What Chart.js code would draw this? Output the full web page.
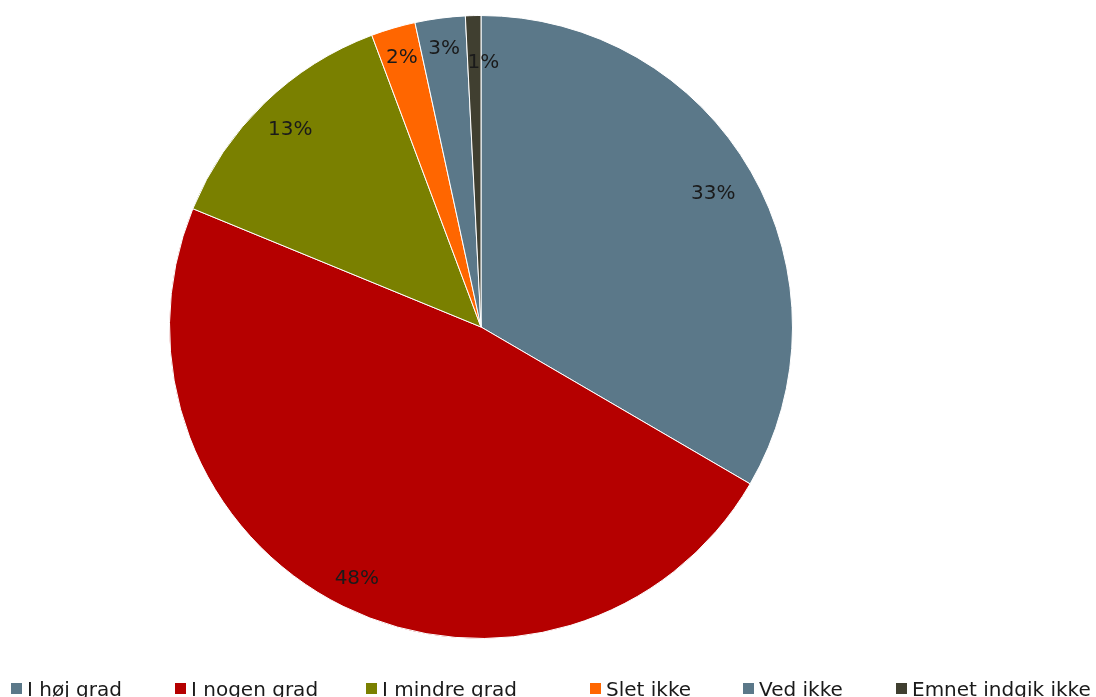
<!DOCTYPE html>
<html>
<head>
    <title>Pie</title>
    <script src="https://cdn.jsdelivr.net/npm/chart.js"></script>
    <style>
        html, body { margin: 0; padding: 0; background: #fff; }
        #wrap { width: 1096px; height: 697px; position: relative; }
    </style>
</head>
<body>
    <div id="wrap"><canvas id="pieChart"></canvas></div>
    <script>
        // Data
        const categories = ['I høj grad', 'I nogen grad', 'I mindre grad', 'Slet ikke', 'Ved ikke', 'Emnet indgik ikke'];
        const shares = [33.4, 47.8, 13.1, 2.3, 2.6, 0.8];
        const shareLabels = ['33%', '48%', '13%', '2%', '3%', '1%'];
        const colors = ['#5B7889', '#B50000', '#7A8000', '#FF6600', '#5B7889', '#403F30'];

        // label placement (fraction of radius) and legend x positions
        const labelRadius = [0.86, 0.9, 0.88, 0.9, 0.9, 0.85];
        const labelShiftX = [0, 0, 0, 0, 0, 9];
        const legendX = [11, 175, 366, 590, 743, 896];

        const font = '"DejaVu Sans", Verdana, sans-serif';

        const labelPlugin = {
            id: 'sliceLabels',
            afterDatasetsDraw(chart) {
                const ctx = chart.ctx;
                const meta = chart.getDatasetMeta(0);
                ctx.save();
                ctx.font = '20px ' + font;
                ctx.fillStyle = '#1a1a1a';
                ctx.textAlign = 'center';
                ctx.textBaseline = 'middle';
                meta.data.forEach((arc, i) => {
                    const p = arc.getProps(['x', 'y', 'startAngle', 'endAngle', 'outerRadius'], true);
                    const mid = (p.startAngle + p.endAngle) / 2;
                    const r = p.outerRadius * labelRadius[i];
                    ctx.fillText(shareLabels[i], p.x + Math.cos(mid) * r + labelShiftX[i], p.y + Math.sin(mid) * r);
                });
                ctx.restore();
            }
        };

        const legendPlugin = {
            id: 'bottomLegend',
            afterDraw(chart) {
                const ctx = chart.ctx;
                ctx.save();
                ctx.font = '20px ' + font;
                ctx.textBaseline = 'alphabetic';
                ctx.textAlign = 'left';
                categories.forEach((c, i) => {
                    ctx.fillStyle = colors[i];
                    ctx.fillRect(legendX[i], 683, 11, 11);
                    ctx.fillStyle = '#1a1a1a';
                    ctx.fillText(c, legendX[i] + 16, 696);
                });
                ctx.restore();
            }
        };

        const ctx = document.getElementById('pieChart').getContext('2d');
        new Chart(ctx, {
            type: 'pie',
            data: {
                labels: categories,
                datasets: [{
                    data: shares,
                    backgroundColor: colors,
                    borderColor: '#ffffff',
                    borderWidth: 1
                }]
            },
            options: {
                responsive: true,
                maintainAspectRatio: false,
                animation: false,
                layout: { padding: { left: 169, right: 303, top: 15, bottom: 58 } },
                plugins: {
                    legend: { display: false },
                    tooltip: { enabled: false }
                }
            },
            plugins: [labelPlugin, legendPlugin]
        });
    </script>
</body>
</html>
